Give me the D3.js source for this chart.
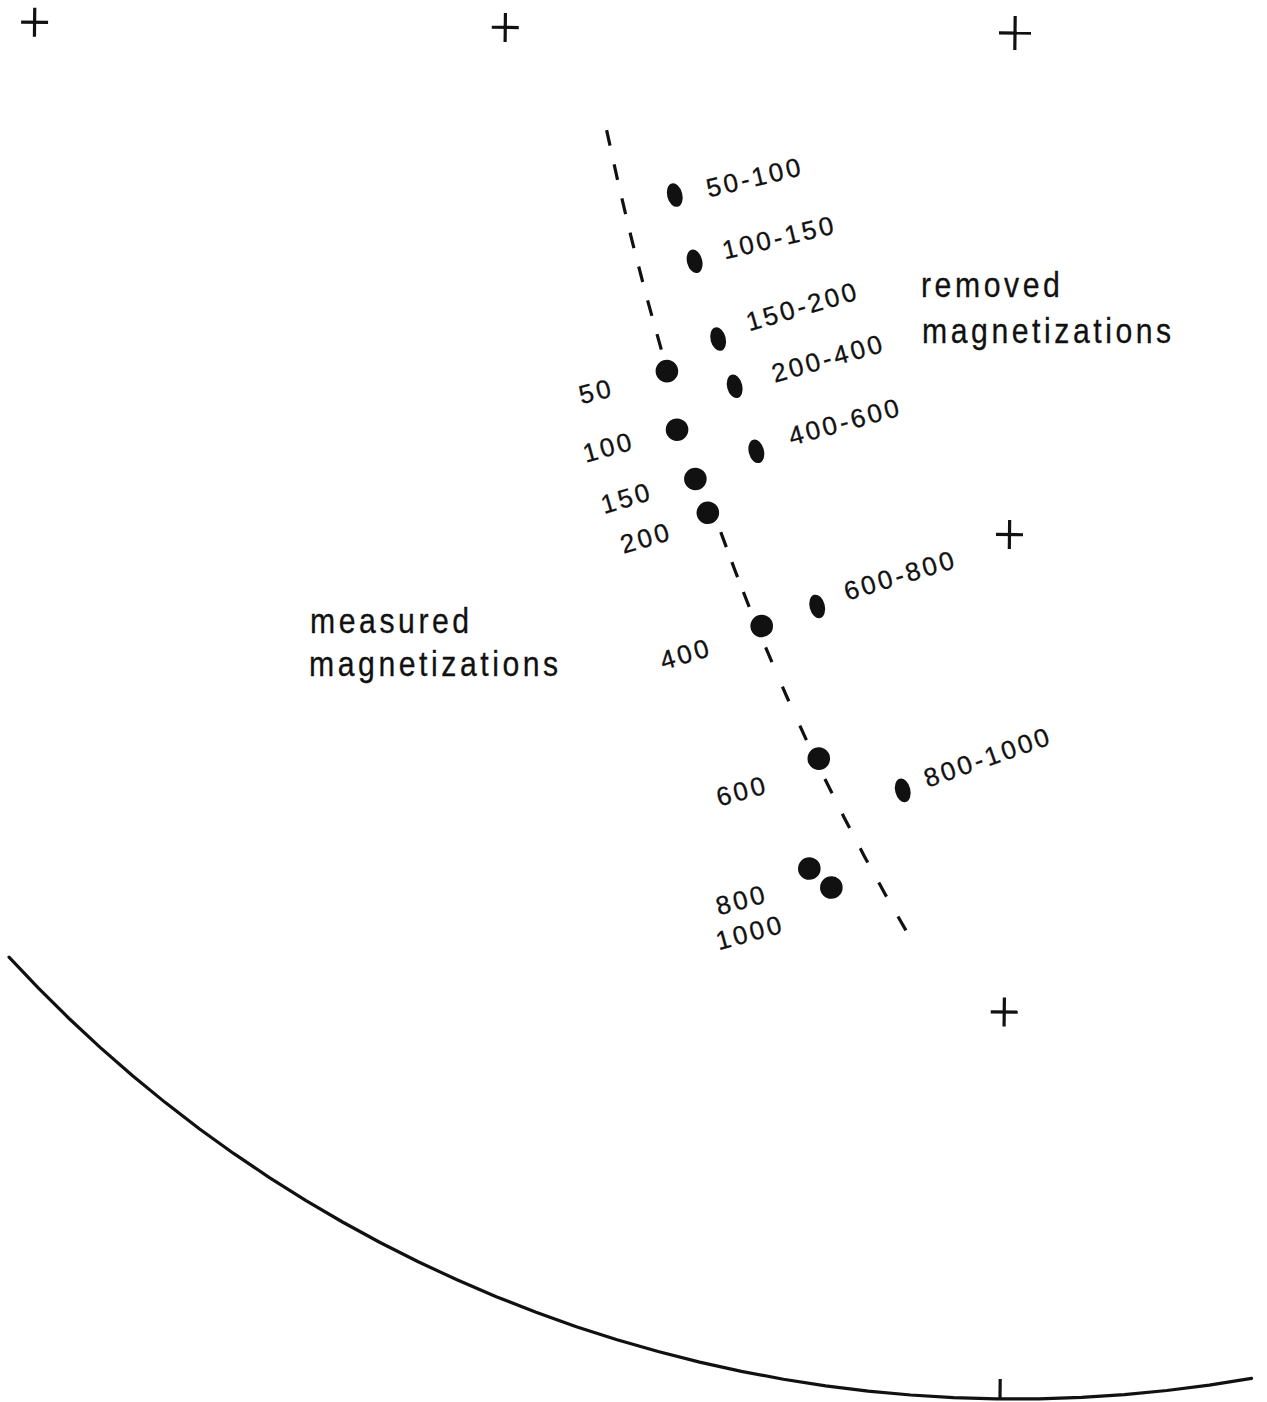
<!DOCTYPE html>
<html>
<head>
<meta charset="utf-8">
<script src="https://cdn.jsdelivr.net/npm/d3@7"></script>
<style>
  html, body { margin: 0; background: #fff; }
  svg { display: block; }
</style>
</head>
<body>
<svg id="chart" width="1267" height="1402"></svg>
<script>
// Thermal demagnetization steps (°C): direction of the remaining (measured) remanence
const measuredSteps = ["50", "100", "150", "200", "400", "600", "800", "1000"];
const measuredDec = [225.2, 219.8, 215.0, 212.0, 202.5, 194.5, 193.2, 191.5];
const measuredInc = [60.9, 58.7, 57.0, 55.7, 51.0, 44.2, 37.1, 36.2];

// Direction of the magnetization removed between successive steps
const removedSteps = ["50-100", "100-150", "150-200", "200-400", "400-600", "600-800", "800-1000"];
const removedDec = [243.9, 233.9, 223.5, 217.8, 211.1, 198.4, 187.8];
const removedInc = [67.5, 66.5, 64.5, 63.0, 60.5, 53.4, 43.3];

// Remagnetization great circle, traced between these two directions [dec, inc]
const circleFrom = [256.0, 64.9];
const circleTo = [186.3, 34.2];
// Steps where the dashed trace is interrupted: [first, last] step of each gap
const traceGaps = [["50", "200"], ["400", "400"], ["600", "600"]];

// Reference crosses of the net [dec, inc]
const crossDec = [0, 270, 270, 180, 180];
const crossInc = [90, 59.4, 29.0, 59.9, 29.1];

// Visible part of the primitive circle (declination range) and the south tick
const primitiveDec = [169.4, 226.8];
const southDec = 180;

// ---------------------------------------------------------------- layout
const W = 1267, H = 1402;
const netCenter = [1015, 33];
const netRadius = 1366;
const netTilt = 0.63;

// Label placement relative to each symbol: [dx, dy, angle]
const measuredLabelPos = [[-85, 34, -15], [-91, 34, -16], [-91, 36, -17], [-84, 42, -17],
                          [-98, 45, -17], [-99, 49, -16], [-90, 48, -16], [-112, 64, -16]];
const removedLabelPos = [[34, 2, -14], [30, -2, -14], [31, -8, -17], [40, -4, -16.5],
                         [35, -6, -16], [30, -6, -17.5], [25, -3, -20]];

const ink = "#111";
const dash = 16, gap = 19;

// Lower-hemisphere equal-area (Schmidt) net: inclination is latitude, centre = vertical down
const projection = d3.geoAzimuthalEqualArea()
  .rotate([0, -90])
  .scale(netRadius / Math.SQRT2)
  .translate(netCenter)
  .precision(0.2);
const toGeo = (dec, inc) => [180 - dec, inc];
const place = (dec, inc) => projection(toGeo(dec, inc));
const geoPath = d3.geoPath(projection);

const svg = d3.select("#chart");
svg.append("rect").attr("width", W).attr("height", H).attr("fill", "#fff");

const net = svg.append("g")
  .attr("transform", `rotate(${netTilt},${netCenter[0]},${netCenter[1]})`);

// Primitive circle
net.append("path")
  .datum({ type: "LineString", coordinates: primitiveDec.map(d => toGeo(d, 0)) })
  .attr("d", geoPath)
  .attr("fill", "none")
  .attr("stroke", ink)
  .attr("stroke-width", 3.2)
  .attr("stroke-linecap", "round");

// South tick on the primitive
const sPt = place(southDec, 0);
net.append("line")
  .attr("x1", sPt[0]).attr("y1", sPt[1])
  .attr("x2", sPt[0]).attr("y2", sPt[1] - 20)
  .attr("stroke", ink).attr("stroke-width", 3.2);

// Reference crosses
const crosses = net.append("g").attr("stroke", ink).attr("stroke-width", 3.2);
crossDec.forEach((dec, i) => {
  const [x, y] = place(dec, crossInc[i]);
  const hw = crossInc[i] === 90 ? 16 : 13.5;
  const hh = crossInc[i] === 90 ? 17 : 14.5;
  crosses.append("line").attr("x1", x - hw).attr("x2", x + hw).attr("y1", y).attr("y2", y);
  crosses.append("line").attr("x1", x).attr("x2", x).attr("y1", y - hh).attr("y2", y + hh);
});

// Dashed remagnetization great circle, broken around the plotted steps
const a = toGeo(...circleFrom), b = toGeo(...circleTo);
const span = d3.geoDistance(a, b);
const along = d3.geoInterpolate(a, b);
const stepGeo = new Map(measuredSteps.map((s, i) => [s, toGeo(measuredDec[i], measuredInc[i])]));
const tAt = s => d3.geoDistance(a, stepGeo.get(s)) / span;
const clearance = (1.3 * Math.PI / 180) / span;
const pieces = [];
let t0 = 0;
traceGaps.forEach(([s, e]) => {
  pieces.push([t0, tAt(s) - clearance]);
  t0 = tAt(e) + clearance;
});
pieces.push([t0, 1]);
net.append("g").selectAll("path")
  .data(pieces)
  .join("path")
  .attr("d", ([p, q]) => geoPath({ type: "LineString", coordinates: [along(p), along(q)] }))
  .attr("fill", "none")
  .attr("stroke", ink)
  .attr("stroke-width", 3.2)
  .attr("stroke-dasharray", function () {
    // fit the dash rhythm so each piece starts and ends on a dash
    const len = this.getTotalLength();
    const n = Math.max(1, Math.round((len + gap) / (dash + gap)));
    const g = n > 1 ? (len - n * dash) / (n - 1) : len;
    return `${dash} ${g}`;
  });

// Measured magnetizations: round dots
const measured = measuredSteps.map((s, i) => ({ s, p: place(measuredDec[i], measuredInc[i]), l: measuredLabelPos[i] }));
net.append("g").selectAll("circle")
  .data(measured)
  .join("circle")
  .attr("cx", d => d.p[0]).attr("cy", d => d.p[1])
  .attr("r", 11.3)
  .attr("fill", ink);

// Removed magnetizations: oval dots
const removed = removedSteps.map((s, i) => ({ s, p: place(removedDec[i], removedInc[i]), l: removedLabelPos[i] }));
net.append("g").selectAll("ellipse")
  .data(removed)
  .join("ellipse")
  .attr("transform", d => `translate(${d.p[0]},${d.p[1]}) rotate(-15)`)
  .attr("rx", 7.6).attr("ry", 12)
  .attr("fill", ink);

// Step labels
const labelFont = "'Liberation Sans', Arial, 'DejaVu Sans', sans-serif";
net.append("g").selectAll("text")
  .data(measured.concat(removed))
  .join("text")
  .attr("transform", d => `translate(${d.p[0] + d.l[0]},${d.p[1] + d.l[1]}) rotate(${d.l[2]})`)
  .attr("font-family", labelFont)
  .attr("font-size", 26)
  .attr("letter-spacing", 3.0)
  .attr("fill", ink)
  .attr("stroke", ink)
  .attr("stroke-width", 0.3)
  .text(d => d.s);

// Group captions
const captions = [
  { t: "removed", x: 921, y: 297 },
  { t: "magnetizations", x: 922, y: 343 },
  { t: "measured", x: 310, y: 633 },
  { t: "magnetizations", x: 309, y: 676 }
];
svg.append("g").selectAll("text")
  .data(captions)
  .join("text")
  .attr("transform", d => `translate(${d.x},${d.y}) scale(0.84,1)`)
  .attr("font-family", labelFont)
  .attr("font-size", 36)
  .attr("letter-spacing", 4.2)
  .attr("fill", ink)
  .attr("stroke", ink)
  .attr("stroke-width", 0.3)
  .text(d => d.t);
</script>
</body>
</html>
